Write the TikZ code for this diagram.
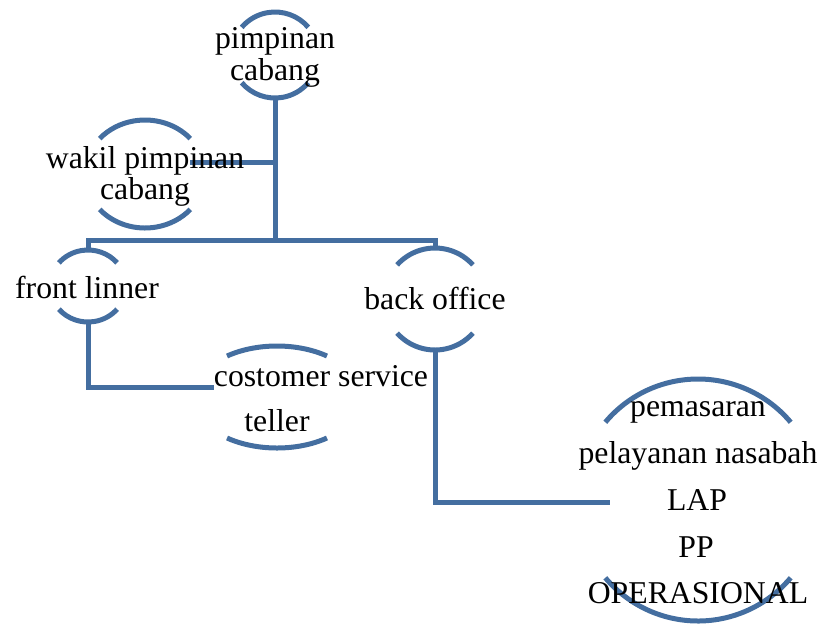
\documentclass[tikz,border=0pt]{standalone}
\usepackage{fontspec}
\setmainfont{Liberation Serif}
\definecolor{orgblue}{RGB}{68,110,160}
\tikzset{
  conn/.style={draw=orgblue, line width=3.75pt, line join=miter},
  arcline/.style={draw=orgblue, line width=3.75pt},
  lbl/.style={anchor=base, inner sep=0pt, font=\fontsize{23.8pt}{24pt}\selectfont, text=black},
}
\newcommand\arcpair[4]{%
  \pgfmathsetmacro\rxp{#2*0.75}\pgfmathsetmacro\ryp{#3*0.75}%
  \draw[arcline] ([shift={(#4:\rxp pt and \ryp pt)}]#1) arc[start angle=#4, end angle=180-#4, x radius=\rxp pt, y radius=\ryp pt];
  \draw[arcline] ([shift={(180+#4:\rxp pt and \ryp pt)}]#1) arc[start angle=180+#4, end angle=360-#4, x radius=\rxp pt, y radius=\ryp pt];
}
\begin{document}
\begin{tikzpicture}[x=0.75pt, y=0.75pt]
\useasboundingbox (0,0) rectangle (824,-626);
% centres of the arc pairs
\coordinate (c1) at (275,-55);
\coordinate (c2) at (145,-174);
\coordinate (c3) at (88,-286);
\coordinate (c4) at (435,-299);
\coordinate (c5) at (277,-397);
\coordinate (c6) at (698,-500);
% arcs
\arcpair{c1}{43.5}{43}{40}
\arcpair{c2}{60}{54}{41}
\arcpair{c3}{38}{36}{40}
\arcpair{c4}{51}{51}{42}
\arcpair{c5}{84}{51}{53.5}
\arcpair{c6}{121}{121}{40}
% connector ends
\coordinate (c1b) at (275,-98);
\coordinate (bus) at (275,-240);
\coordinate (c2r) at (190,-162);
\coordinate (c3t) at (88,-250);
\coordinate (c4t) at (435,-248);
\coordinate (c3b) at (88,-322);
\coordinate (c5l) at (214,-387);
\coordinate (c4b) at (435,-350);
\coordinate (c6l) at (610,-502);
% connectors
\draw[conn] (c1b) -- (bus);
\draw[conn] (c2r) -- (c2r -| bus);
\draw[conn] (c3t) -- (c3t |- bus) -- (c4t |- bus) -- (c4t);
\draw[conn] (c3b) |- (c5l);
\draw[conn] (c4b) |- (c6l);
% texts
\node[lbl] (t1a) at (275,-48) {pimpinan};
\node[lbl] (t1b) at (275,-80) {cabang};
\node[lbl] (t2a) at (145,-168) {wakil pimpinan};
\node[lbl] (t2b) at (145,-199) {cabang};
\node[lbl] (t3) at (87,-298) {front linner};
\node[lbl] (t4) at (435,-309) {back office};
\node[lbl] (t5a) at (321,-386) {costomer service};
\node[lbl] (t5b) at (277,-431) {teller};
\node[lbl] (t6a) at (698,-416) {pemasaran};
\node[lbl] (t6b) at (698,-463) {pelayanan nasabah};
\node[lbl] (t6c) at (697,-510) {LAP};
\node[lbl] (t6d) at (696,-557) {PP};
\node[lbl] (t6e) at (698,-603) {OPERASIONAL};
\end{tikzpicture}
\end{document}
